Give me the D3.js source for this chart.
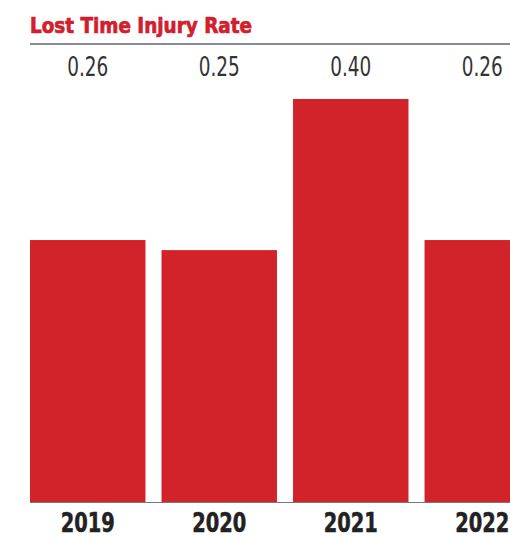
<!DOCTYPE html>
<html>
<head>
<meta charset="utf-8">
<script src="https://cdn.jsdelivr.net/npm/d3@7"></script>
<style>
  html, body { margin: 0; padding: 0; background: #fff; }
  svg { display: block; }
</style>
</head>
<body>
<svg id="chart" width="510" height="538"></svg>
<script>
// Lost Time Injury Rate by year
const years = ["2019", "2020", "2021", "2022"];
const rates = [0.26, 0.25, 0.40, 0.26];
const rateLabels = ["0.26", "0.25", "0.40", "0.26"];
const chartTitle = "Lost Time Injury Rate";

const W = 510, H = 538;
const svg = d3.select("#chart");

const left = 30;
const x = d3.scaleBand()
  .domain(years)
  .range([left, left + 510])
  .paddingInner(0.122)
  .paddingOuter(0)
  .align(0);

const y = d3.scaleLinear().domain([0, 0.4]).range([502, 99]);

const red = "#d2232a";
const condensed = "'DejaVu Sans Condensed', 'Liberation Sans Narrow', sans-serif";

// Title (heavy condensed)
svg.append("text")
  .attr("x", left)
  .attr("y", 33)
  .attr("fill", "#d0202c")
  .attr("stroke", "#d0202c")
  .attr("stroke-width", 0.7)
  .attr("font-family", condensed)
  .attr("font-weight", "bold")
  .attr("font-size", 22)
  .attr("textLength", 222)
  .attr("lengthAdjust", "spacingAndGlyphs")
  .text(chartTitle);

// Rule under title
svg.append("line")
  .attr("x1", left).attr("x2", W)
  .attr("y1", 44).attr("y2", 44)
  .attr("stroke", "#666").attr("stroke-width", 1.6);

// Baseline
svg.append("line")
  .attr("x1", left).attr("x2", W)
  .attr("y1", y(0) + 0.5).attr("y2", y(0) + 0.5)
  .attr("stroke", "#777").attr("stroke-width", 1);

// Bars
svg.append("g")
  .selectAll("rect")
  .data(years)
  .join("rect")
  .attr("x", d => x(d))
  .attr("width", x.bandwidth())
  .attr("y", (d, i) => y(rates[i]))
  .attr("height", (d, i) => y(0) - y(rates[i]))
  .attr("fill", red);

// Value labels (narrowed horizontally)
svg.append("g")
  .selectAll("text")
  .data(years)
  .join("text")
  .attr("transform", d => `translate(${x(d) + x.bandwidth() / 2},76) scale(0.76,1)`)
  .attr("text-anchor", "middle")
  .attr("fill", "#333")
  .attr("font-family", condensed)
  .attr("font-size", 27)
  .text((d, i) => rateLabels[i]);

// Year axis
const xAxis = d3.axisBottom(x).tickSize(0).tickPadding(0);
const gx = svg.append("g")
  .attr("transform", `translate(0, ${y(0)})`)
  .call(xAxis);
gx.select(".domain").remove();
gx.selectAll("text")
  .attr("dy", null)
  .attr("y", 0)
  .attr("transform", "translate(0,30) scale(0.8,1)")
  .attr("fill", "#222")
  .attr("stroke", "#222")
  .attr("stroke-width", 0.5)
  .attr("font-family", condensed)
  .attr("font-weight", "bold")
  .attr("font-size", 27);
</script>
</body>
</html>
